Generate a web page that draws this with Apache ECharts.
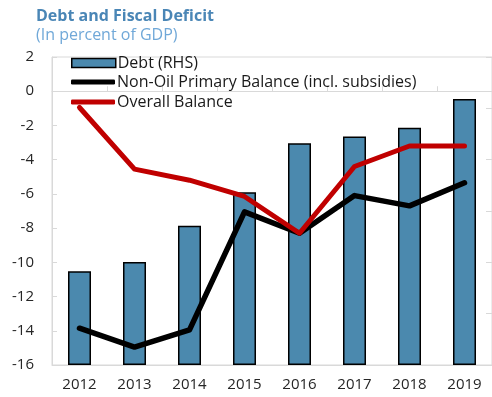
<!DOCTYPE html>
<html>
<head>
<meta charset="utf-8">
<script src="https://cdn.jsdelivr.net/npm/echarts@6/dist/echarts.min.js"></script>
<style>
  html, body { margin: 0; padding: 0; background: #fff; }
  #chart { width: 492px; height: 397px; }
</style>
</head>
<body>
<div id="chart"></div>
<script>
// Fiscal indicators, in percent of GDP
const years = ['2012', '2013', '2014', '2015', '2016', '2017', '2018', '2019'];
const debt = [36.5, 40.1, 54.3, 67.3, 86.4, 89.0, 92.4, 103.6];          // right-hand scale
const nonOilPrimary = [-13.85, -14.95, -13.95, -7.05, -8.3, -6.1, -6.7, -5.35];
const overallBalance = [-0.95, -4.55, -5.2, -6.15, -8.3, -4.4, -3.2, -3.2];
const leftTicks = { min: -16, max: 2, step: 2 };
const rightTicks = { min: 0, max: 120, step: 20 };

const gray = '#d9d9d9';
const font = '"Open Sans", "Noto Sans", sans-serif';
const legendText = { fontFamily: font, fontSize: 16, color: '#1a1a1a', padding: [0, 0, 0, -3] };

const chart = echarts.init(document.getElementById('chart'), null, { renderer: 'canvas' });
chart.setOption({
  animation: false,
  title: {
    text: 'Debt and Fiscal Deficit',
    subtext: '(In percent of GDP)',
    left: 31,
    top: 3,
    itemGap: 3,
    textStyle: { fontFamily: font, fontSize: 16, fontWeight: 'bold', color: '#4a86b6' },
    subtextStyle: { fontFamily: font, fontSize: 16, color: '#70a8d8' }
  },
  legend: [
    {
      orient: 'vertical',
      left: 66,
      top: 50,
      itemWidth: 44,
      itemHeight: 9,
      textStyle: legendText,
      data: [
        { name: 'Debt (RHS)', icon: 'rect', itemStyle: { color: '#4b89ae', borderColor: '#000', borderWidth: 1.5 } }
      ]
    },
    {
      orient: 'vertical',
      left: 66,
      top: 69,
      itemWidth: 44,
      itemHeight: 5,
      itemGap: 4,
      textStyle: legendText,
      data: [
        { name: 'Non-Oil Primary Balance (incl. subsidies)', icon: 'roundRect', itemStyle: { color: '#000' } },
        { name: 'Overall Balance', icon: 'roundRect', itemStyle: { color: '#c00000' } }
      ]
    }
  ],
  grid: {
    left: 52, top: 57, width: 442, height: 308,
    show: true, borderColor: gray, borderWidth: 1, backgroundColor: 'transparent'
  },
  xAxis: [
    {
      type: 'category',
      data: years,
      position: 'bottom',
      axisLine: { show: true, onZero: false, lineStyle: { color: gray } },
      axisTick: { show: false },
      axisLabel: { fontFamily: font, fontSize: 15, color: '#262626', margin: 12 }
    },
    {
      type: 'category',
      data: years,
      position: 'bottom',
      axisLine: { show: true, onZero: true, onZeroAxisIndex: 0, lineStyle: { color: gray } },
      axisTick: { show: true, inside: true, length: 5, lineStyle: { color: gray } },
      axisLabel: { show: false }
    }
  ],
  yAxis: [
    {
      type: 'value',
      min: leftTicks.min, max: leftTicks.max, interval: leftTicks.step,
      axisLine: { show: true, lineStyle: { color: gray } },
      axisTick: { show: true, inside: true, length: 5, lineStyle: { color: gray } },
      axisLabel: { fontFamily: font, fontSize: 15, color: '#262626', margin: 18 },
      splitLine: { show: false }
    },
    {
      type: 'value',
      position: 'right',
      min: rightTicks.min, max: rightTicks.max, interval: rightTicks.step,
      axisLine: { show: false },
      axisTick: { show: true, inside: true, length: 6, lineStyle: { color: gray } },
      axisLabel: { show: false },
      splitLine: { show: false }
    }
  ],
  series: [
    {
      name: 'Debt (RHS)',
      type: 'bar',
      xAxisIndex: 0,
      yAxisIndex: 1,
      data: debt,
      barWidth: 23,
      itemStyle: { color: '#4b89ae', borderColor: '#000', borderWidth: 1.5 },
      z: 1
    },
    {
      name: 'Non-Oil Primary Balance (incl. subsidies)',
      type: 'line',
      xAxisIndex: 0,
      yAxisIndex: 0,
      data: nonOilPrimary,
      symbol: 'none',
      lineStyle: { color: '#000', width: 5.5, cap: 'round', join: 'round' },
      itemStyle: { color: '#000' },
      z: 3
    },
    {
      name: 'Overall Balance',
      type: 'line',
      xAxisIndex: 0,
      yAxisIndex: 0,
      data: overallBalance,
      symbol: 'none',
      lineStyle: { color: '#c00000', width: 5, cap: 'round', join: 'round' },
      itemStyle: { color: '#c00000' },
      z: 4
    }
  ]
});
</script>
</body>
</html>
